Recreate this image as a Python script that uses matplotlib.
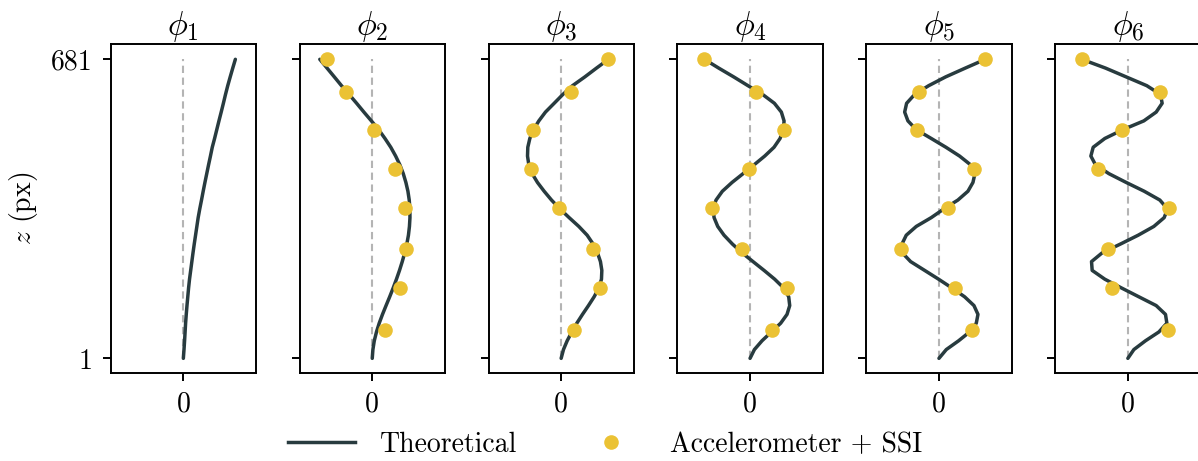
import matplotlib
matplotlib.use("Agg")
import matplotlib.pyplot as plt
from matplotlib.lines import Line2D

plt.rcParams["font.family"] = ["cmr10", "DejaVu Serif"]
plt.rcParams["mathtext.fontset"] = "cm"
plt.rcParams["axes.formatter.use_mathtext"] = True

# ---------------- data ----------------
z_theory = [1, 21, 41, 61, 81, 101, 121, 141, 161, 181, 201, 221, 241, 261, 281,
            301, 321, 341, 361, 381, 401, 421, 441, 461, 481, 501, 521, 541, 561,
            581, 601, 621, 641, 661, 681]

phi1 = [0.000, 0.009, 0.017, 0.024, 0.031, 0.040, 0.050, 0.061, 0.072, 0.085,
        0.101, 0.117, 0.133, 0.150, 0.168, 0.186, 0.204, 0.226, 0.250, 0.273,
        0.297, 0.322, 0.347, 0.373, 0.398, 0.430, 0.460, 0.490, 0.521, 0.551,
        0.580, 0.611, 0.645, 0.680, 0.716]
phi2 = [0.000, 0.009, 0.028, 0.058, 0.096, 0.141, 0.190, 0.240, 0.288, 0.333,
        0.375, 0.413, 0.447, 0.476, 0.498, 0.512, 0.519, 0.518, 0.509, 0.491,
        0.463, 0.427, 0.380, 0.322, 0.255, 0.175, 0.088, -0.012, -0.115, -0.215,
        -0.318, -0.423, -0.522, -0.622, -0.722]
phi3 = [0.000, 0.032, 0.083, 0.147, 0.216, 0.294, 0.376, 0.454, 0.518, 0.555,
        0.560, 0.541, 0.500, 0.440, 0.358, 0.243, 0.110, -0.018, -0.133, -0.234,
        -0.326, -0.399, -0.445, -0.463, -0.459, -0.431, -0.381, -0.307, -0.216,
        -0.096, 0.023, 0.156, 0.326, 0.486, 0.651]
phi4 = [0.000, 0.060, 0.165, 0.294, 0.422, 0.509, 0.546, 0.532, 0.463, 0.339,
        0.193, 0.041, -0.110, -0.243, -0.358, -0.445, -0.495, -0.509, -0.468,
        -0.381, -0.248, -0.096, 0.055, 0.202, 0.330, 0.413, 0.459, 0.468, 0.431,
        0.335, 0.174, -0.028, -0.225, -0.431, -0.628]
phi5 = [0.000, 0.101, 0.271, 0.422, 0.514, 0.537, 0.482, 0.353, 0.179, -0.005,
        -0.197, -0.390, -0.505, -0.509, -0.450, -0.312, -0.106, 0.069, 0.261,
        0.399, 0.468, 0.495, 0.436, 0.284, 0.096, -0.106, -0.312, -0.427, -0.472,
        -0.445, -0.335, -0.142, 0.092, 0.362, 0.638]
phi6 = [0.000, 0.083, 0.243, 0.427, 0.537, 0.518, 0.390, 0.151, -0.087, -0.317,
        -0.491, -0.500, -0.353, -0.101, 0.142, 0.358, 0.500, 0.546, 0.440, 0.225,
        -0.023, -0.261, -0.445, -0.509, -0.477, -0.317, -0.069, 0.220, 0.390,
        0.472, 0.450, 0.261, -0.023, -0.307, -0.633]

z_sensor = [681, 607, 520, 432, 344, 249, 161, 65]
meas2 = [-0.624, -0.362, 0.023, 0.307, 0.454, 0.463, 0.376, 0.170]
meas3 = [0.651, 0.138, -0.390, -0.417, -0.032, 0.440, 0.532, 0.170]
meas4 = [-0.628, 0.078, 0.463, -0.018, -0.518, -0.106, 0.509, 0.307]
meas5 = [0.638, -0.275, -0.298, 0.486, 0.119, -0.523, 0.216, 0.459]
meas6 = [-0.633, 0.445, -0.087, -0.417, 0.560, -0.280, -0.220, 0.550]

titles = [r"$\phi_1$", r"$\phi_2$", r"$\phi_3$", r"$\phi_4$", r"$\phi_5$", r"$\phi_6$"]
ytick_vals = [1, 681]
legend_labels = ["Theoretical", "Accelerometer + SSI"]

theory = [phi1, phi2, phi3, phi4, phi5, phi6]
measured = [None, meas2, meas3, meas4, meas5, meas6]

# ---------------- style ----------------
LINE = "#283b3f"
YELLOW = "#ebc234"
GREY = "#b4b4b4"
FS = 20

W, H = 1198, 461
fig = plt.figure(figsize=(W / 100, H / 100), dpi=100)

ax_w, ax_h = 145.3, 329.6
bottom_px = 373.3
for i in range(6):
    left_px = 110.7 + i * 188.9
    ax = fig.add_axes([left_px / W, 1 - bottom_px / H, ax_w / W, ax_h / H])
    ax.plot([0, 0], [z_theory[0], z_theory[-1]], ls=(0, (3.5, 2.2)), color=GREY,
            lw=1.5, zorder=1)
    ax.plot(theory[i], z_theory, color=LINE, lw=2.5, zorder=2,
            solid_capstyle="round", solid_joinstyle="round")
    if measured[i] is not None:
        ax.plot(measured[i], z_sensor, ls="none", marker="o", color=YELLOW,
                ms=10.5, mec="none", zorder=3)
    ax.set_xlim(-1, 1)
    ax.set_ylim(-33, 716.5)
    ax.set_xticks([0])
    ax.set_xticklabels(["0"])
    ax.set_yticks(ytick_vals)
    if i == 0:
        ax.set_yticklabels([str(v) for v in ytick_vals])
        ax.set_ylabel(r"$z$ (px)", fontsize=FS, labelpad=8)
    else:
        ax.set_yticklabels([])
    ax.tick_params(length=6, width=1.4, labelsize=FS, pad=7, color="black")
    for sp in ax.spines.values():
        sp.set_linewidth(1.4)
    ax.set_title(titles[i], fontsize=24, pad=6)

handles = [Line2D([], [], color=LINE, lw=2.5),
           Line2D([], [], ls="none", marker="o", color=YELLOW, ms=10.5, mec="none")]
fig.legend(handles, legend_labels, loc="center", bbox_to_anchor=(0.505, 1 - 445 / H),
           ncol=2, frameon=False, fontsize=FS, handlelength=2.4, handletextpad=0.9,
           columnspacing=2.2)

fig.savefig("out.png", dpi=100)
